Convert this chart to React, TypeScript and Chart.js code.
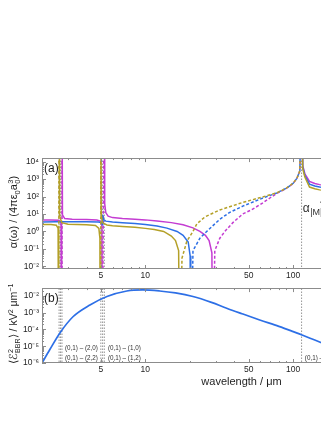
import React, { useEffect, useRef } from 'react';
import { Chart, registerables } from 'chart.js';

Chart.register(...registerables);

const FONT = "'Liberation Sans', Arial, Helvetica, sans-serif";

// ---- axes / ticks ----
const xTickLabels = [5, 10, 50, 100, 500];
const alphaTickExponents = [-2, -1, 0, 1, 2, 3, 4];
const bbrTickExponents = [-6, -5, -4, -3, -2];

// ---- panel (a): signed polarizability alpha(omega) / (4 pi eps0 a0^3) vs wavelength (um) ----
const oliveLambda = [2.0, 2.3, 2.5, 2.57, 2.59, 2.61, 2.61, 2.63, 2.72, 3.0, 4.0, 4.6, 4.85, 4.93, 4.95, 5.0, 5.0, 5.03, 5.12, 5.5, 6.0, 7.0, 8.5, 10, 11.5, 13.3, 15, 16, 16.8, 17.1, 17.7, 19.1, 21.0, 22.3, 25.3, 31.9, 37.2, 45.6, 59.4, 77.4, 90, 100, 106, 111, 114, 114, 116, 120, 129, 140, 151, 174, 200, 260];
const oliveAlpha = [2.5, 2.5, 2.3, 1.5, 0, -Infinity, Infinity, 8, 3.2, 2.6, 2.45, 2.2, 1.5, 0.4, 0, -Infinity, Infinity, 10, 3.2, 2.35, 2.15, 1.95, 1.75, 1.5, 1.3, 1.0, 0.55, 0.3, 0.08, 0, -0.03, -0.28, -1.0, -2.7, -6.8, -17, -26, -46, -85, -162, -300, -580, -1100, -3000, -Infinity, Infinity, 4000, 1300, 350, 280, 240, 210, 190, 170];

const magentaLambda = [2.0, 2.3, 2.6, 2.69, 2.71, 2.73, 2.73, 2.75, 2.85, 3.2, 4.0, 4.7, 5.0, 5.08, 5.1, 5.28, 5.28, 5.31, 5.4, 5.6, 6.0, 7.0, 8.5, 10, 12, 15, 18, 21, 23.4, 25.5, 27, 28.2, 28.6, 29.5, 31.9, 34.5, 39.1, 45.6, 52, 60, 70, 77.4, 90, 100, 106, 111, 114, 114, 116, 120, 129, 140, 151, 174, 200, 260];
const magentaAlpha = [4.5, 4.6, 4.4, 3.0, 0, -Infinity, Infinity, 9, 5.5, 5.0, 4.8, 4.5, 3.8, 2.0, 0, -Infinity, Infinity, 40, 12, 7.5, 6.2, 5.5, 5.0, 4.6, 4.0, 3.2, 2.4, 1.6, 1.0, 0.6, 0.3, 0.06, 0, -0.08, -0.41, -1.0, -3.2, -10, -17, -35, -85, -150, -290, -560, -1100, -3000, -Infinity, Infinity, 6000, 2000, 740, 560, 480, 400, 360, 330];

const blueLambda = [2.0, 2.5, 3.0, 4.0, 4.8, 5.05, 5.13, 5.15, 5.2, 5.4, 6.0, 7.0, 8.5, 10, 12, 14, 16.4, 18, 19.5, 20.1, 20.3, 21.0, 23.4, 26, 31.9, 37, 45.6, 59.4, 77.4, 90, 100, 106, 111, 114, 114, 116, 120, 129, 140, 151, 174, 200, 260];
const blueAlpha = [3.5, 3.55, 3.6, 3.6, 3.5, 3.3, 2.4, 9, 5, 3.9, 3.5, 3.2, 2.85, 2.5, 2.05, 1.55, 1.0, 0.6, 0.25, 0.04, 0, -0.08, -0.41, -1.0, -5, -12, -28, -70, -160, -300, -570, -1100, -3000, -Infinity, Infinity, 5000, 1600, 510, 400, 350, 310, 280, 260];

// ---- panel (b): BBR spectral energy density (kV^2 um^-1) ----
const bbrLambda = [2.0, 2.26, 2.65, 3.24, 4.22, 5.5, 7.5, 9.6, 12.5, 16, 21, 28, 35.5, 45, 59.4, 80, 99, 116, 140, 174, 220, 300];
const bbrValue = [1.0e-6, 6.3e-6, 6.3e-5, 5.6e-4, 2.8e-3, 8.9e-3, 0.019, 0.022, 0.019, 0.0145, 8.9e-3, 4.0e-3, 1.8e-3, 8.5e-4, 3.6e-4, 1.5e-4, 7.6e-5, 4.5e-5, 2.3e-5, 1.07e-5, 4.7e-6, 1.8e-6];

// ---- transitions (dotted lines) and their labels ----
const transitionLambda = [2.61, 2.67, 2.73, 5.0, 5.14, 5.28, 114];
const transitionLabelText = ['(0,1) – (2,0)', '(0,1) – (2,2)', '(0,1) – (1,0)', '(0,1) – (1,2)', '(0,1) – (0,2)'];
const transitionLabelLambda = [2.86, 2.86, 5.58, 5.58, 120];
const transitionLabelValue = [8e-6, 1.9e-6, 8e-6, 1.9e-6, 1.9e-6];

// ---- annotation in panel (a) ----
const alphaLabelLambda = 116;
const alphaLabelValue = 12.8;
const leaderLambda = [152, 185];
const leaderValue = [46, 120];

const OLIVE = '#b4a028';
const MAGENTA = '#c43cd2';
const BLUE = '#2d6fe6';
const FRAME = '#8c8c8c';
const TEXT = '#1e1e1e';

const SUP = '⁰¹²³⁴⁵⁶⁷⁸⁹';
const sup = (n: number) =>
  String(n)
    .split('')
    .map((c) => (c === '-' ? '⁻' : SUP[+c]))
    .join('');

function logTicks(min: number, max: number) {
  const out: { v: number; k: number }[] = [];
  for (let e = Math.floor(Math.log10(min)) - 1; e <= Math.ceil(Math.log10(max)); e++) {
    for (let k = 1; k < 10; k++) {
      const v = k * Math.pow(10, e);
      if (v >= min * 0.999 && v <= max * 1.001) out.push({ v, k });
    }
  }
  return out;
}

type TextItem = { text: string; x: number; y: number; size: number; sub?: string; subSize?: number };

function makeFramePlugin(name: string, panelLabel: string, texts: TextItem[]) {
  return {
    id: 'frame' + name,
    afterDatasetsDraw(chart: any) {
      const { ctx, chartArea: a } = chart;
      const xs = chart.scales.x;
      const ys = chart.scales.y;
      ctx.save();
      ctx.strokeStyle = FRAME;
      ctx.lineWidth = 1;
      ctx.setLineDash([]);
      ctx.beginPath();
      for (const t of logTicks(xs.min, xs.max)) {
        const px = Math.round(xs.getPixelForValue(t.v)) + 0.5;
        const len = t.k === 1 || t.k === 5 ? 4 : 2;
        ctx.moveTo(px, a.bottom);
        ctx.lineTo(px, a.bottom - len);
        ctx.moveTo(px, a.top);
        ctx.lineTo(px, a.top + len);
      }
      for (const t of logTicks(ys.min, ys.max)) {
        const py = Math.round(ys.getPixelForValue(t.v)) + 0.5;
        const len = t.k === 1 ? 4 : 2;
        ctx.moveTo(a.left, py);
        ctx.lineTo(a.left + len, py);
        ctx.moveTo(a.right, py);
        ctx.lineTo(a.right - len, py);
      }
      ctx.stroke();
      ctx.strokeRect(
        Math.round(a.left) + 0.5,
        Math.round(a.top) + 0.5,
        Math.round(a.right - a.left) - 1,
        Math.round(a.bottom - a.top) - 1
      );
      ctx.fillStyle = TEXT;
      ctx.textAlign = 'left';
      ctx.textBaseline = 'top';
      ctx.font = `12px ${FONT}`;
      ctx.fillText(panelLabel, a.left + 2, a.top + 5);
      for (const t of texts) {
        const px = xs.getPixelForValue(t.x);
        const py = ys.getPixelForValue(t.y);
        ctx.font = `${t.size}px ${FONT}`;
        ctx.fillStyle = '#333';
        ctx.textBaseline = t.sub ? 'alphabetic' : 'middle';
        ctx.fillText(t.text, px, py);
        if (t.sub) {
          const w = ctx.measureText(t.text).width;
          ctx.font = `${t.subSize}px ${FONT}`;
          ctx.fillText(t.sub, px + w + 0.5, py + 3);
        }
      }
      ctx.restore();
    },
  };
}

function alphaDataset(label: string, lam: number[], alpha: number[], color: string) {
  return {
    label,
    data: lam.map((l, i) => ({ x: l, y: Math.min(Math.max(Math.abs(alpha[i]), 1e-9), 1e9) })),
    borderColor: color,
    borderWidth: 1.5,
    pointRadius: 0,
    fill: false,
    tension: 0,
    segment: {
      borderDash: (ctx: any) =>
        alpha[ctx.p0DataIndex] < 0 || alpha[ctx.p1DataIndex] < 0 ? [3, 2] : undefined,
    },
  };
}

function transitionDatasets() {
  return transitionLambda.map((l) => ({
    label: 'transition ' + l,
    data: [
      { x: l, y: 1e-12 },
      { x: l, y: 1e12 },
    ],
    borderColor: '#7a7a7a',
    borderWidth: 0.8,
    borderDash: [1.5, 1.5],
    pointRadius: 0,
    fill: false,
  }));
}

function xAxis(withTitle: boolean, height: number) {
  return {
    type: 'logarithmic' as const,
    min: 2,
    max: 1000,
    bounds: 'data' as const,
    grid: { display: false, drawTicks: false },
    border: { display: false },
    afterBuildTicks: (s: any) => {
      s.ticks = xTickLabels.map((v) => ({ value: v }));
    },
    afterFit: (s: any) => {
      s.height = height;
    },
    ticks: {
      autoSkip: false,
      maxRotation: 0,
      padding: 2,
      color: TEXT,
      font: { family: FONT, size: 8.5 },
      callback: (v: any) => String(v),
    },
    title: {
      display: withTitle,
      text: 'wavelength / μm',
      color: TEXT,
      font: { family: FONT, size: 11 },
      padding: { top: 0, bottom: 1 },
    },
  };
}

function yAxis(minExp: number, maxExp: number, exps: number[]) {
  return {
    type: 'logarithmic' as const,
    min: Math.pow(10, minExp),
    max: Math.pow(10, maxExp),
    bounds: 'data' as const,
    grid: { display: false, drawTicks: false },
    border: { display: false },
    afterBuildTicks: (s: any) => {
      s.ticks = exps.map((e) => ({ value: Math.pow(10, e) }));
    },
    afterFit: (s: any) => {
      s.width = 34;
    },
    ticks: {
      autoSkip: false,
      padding: 3,
      color: TEXT,
      font: { family: FONT, size: 8.5 },
      callback: (v: any) => '10' + sup(Math.round(Math.log10(Number(v)))),
    },
  };
}

const baseOptions = {
  animation: false as const,
  responsive: false,
  maintainAspectRatio: false,
  events: [] as any[],
  plugins: { legend: { display: false }, tooltip: { enabled: false } },
  layout: { padding: { top: 4, left: 0, right: 0, bottom: 0 } },
  elements: { point: { radius: 0 }, line: { tension: 0 } },
};

const subStyle: React.CSSProperties = { fontSize: '0.68em', verticalAlign: '-0.35em', lineHeight: 0 };
const supStyle: React.CSSProperties = { fontSize: '0.68em', verticalAlign: '0.55em', lineHeight: 0 };

function Stack({ top, bottom }: { top: string; bottom: string }) {
  return (
    <span
      style={{
        display: 'inline-flex',
        flexDirection: 'column',
        fontSize: '0.68em',
        lineHeight: '0.95em',
        verticalAlign: '0.55em',
        marginLeft: 0.5,
      }}
    >
      <span>{top}</span>
      <span>{bottom}</span>
    </span>
  );
}

export default function App() {
  const refA = useRef<HTMLCanvasElement>(null);
  const refB = useRef<HTMLCanvasElement>(null);

  useEffect(() => {
    const chartA = new Chart(refA.current as HTMLCanvasElement, {
      type: 'line',
      data: {
        datasets: [
          alphaDataset('olive', oliveLambda, oliveAlpha, OLIVE),
          alphaDataset('blue', blueLambda, blueAlpha, BLUE),
          alphaDataset('magenta', magentaLambda, magentaAlpha, MAGENTA),
          {
            label: 'leader',
            data: leaderLambda.map((l, i) => ({ x: l, y: leaderValue[i] })),
            borderColor: '#222',
            borderWidth: 0.8,
            pointRadius: 0,
            fill: false,
          },
          ...transitionDatasets(),
        ] as any,
      },
      options: {
        ...baseOptions,
        scales: { x: xAxis(false, 16), y: yAxis(-2.15, 4.2, alphaTickExponents) },
      } as any,
      plugins: [
        makeFramePlugin('A', '(a)', [
          { text: 'α', sub: '|M|=0', x: alphaLabelLambda, y: alphaLabelValue, size: 12, subSize: 9 },
        ]),
      ],
    });

    const chartB = new Chart(refB.current as HTMLCanvasElement, {
      type: 'line',
      data: {
        datasets: [
          {
            label: 'BBR',
            data: bbrLambda.map((l, i) => ({ x: l, y: bbrValue[i] })),
            borderColor: BLUE,
            borderWidth: 1.7,
            pointRadius: 0,
            fill: false,
            cubicInterpolationMode: 'monotone',
          },
          ...transitionDatasets(),
        ] as any,
      },
      options: {
        ...baseOptions,
        scales: { x: xAxis(true, 27), y: yAxis(-6, -1.55, bbrTickExponents) },
      } as any,
      plugins: [
        makeFramePlugin(
          'B',
          '(b)',
          transitionLabelText.map((t, i) => ({
            text: t,
            x: transitionLabelLambda[i],
            y: transitionLabelValue[i],
            size: 6.3,
          }))
        ),
      ],
    });

    return () => {
      chartA.destroy();
      chartB.destroy();
    };
  }, []);

  return (
    <div style={{ position: 'relative', width: 321, height: 400, fontFamily: FONT, color: TEXT }}>
      <div style={{ position: 'absolute', left: 0, top: 142, width: 321, height: 135, overflow: 'hidden' }}>
        <canvas ref={refA} width={433} height={135} style={{ display: 'block' }} />
      </div>
      <div style={{ position: 'absolute', left: 0, top: 272, width: 321, height: 110, overflow: 'hidden' }}>
        <canvas ref={refB} width={433} height={110} style={{ display: 'block' }} />
      </div>
      <div
        style={{
          position: 'absolute',
          left: 6,
          top: 203.5,
          transform: 'translate(-50%,-50%) rotate(-90deg)',
          whiteSpace: 'nowrap',
          fontSize: 11,
          lineHeight: '13px',
        }}
      >
        α(ω) / (4πε<span style={subStyle}>0</span>a
        <Stack top="3" bottom="0" />)
      </div>
      <div
        style={{
          position: 'absolute',
          left: 6,
          top: 315.5,
          transform: 'translate(-50%,-50%) rotate(-90deg)',
          whiteSpace: 'nowrap',
          fontSize: 10.5,
          lineHeight: '13px',
        }}
      >
        ⟨ℰ<Stack top="2" bottom="BBR" />⟩ / kV<span style={supStyle}>2</span> μm<span style={supStyle}>−1</span>
      </div>
    </div>
  );
}
